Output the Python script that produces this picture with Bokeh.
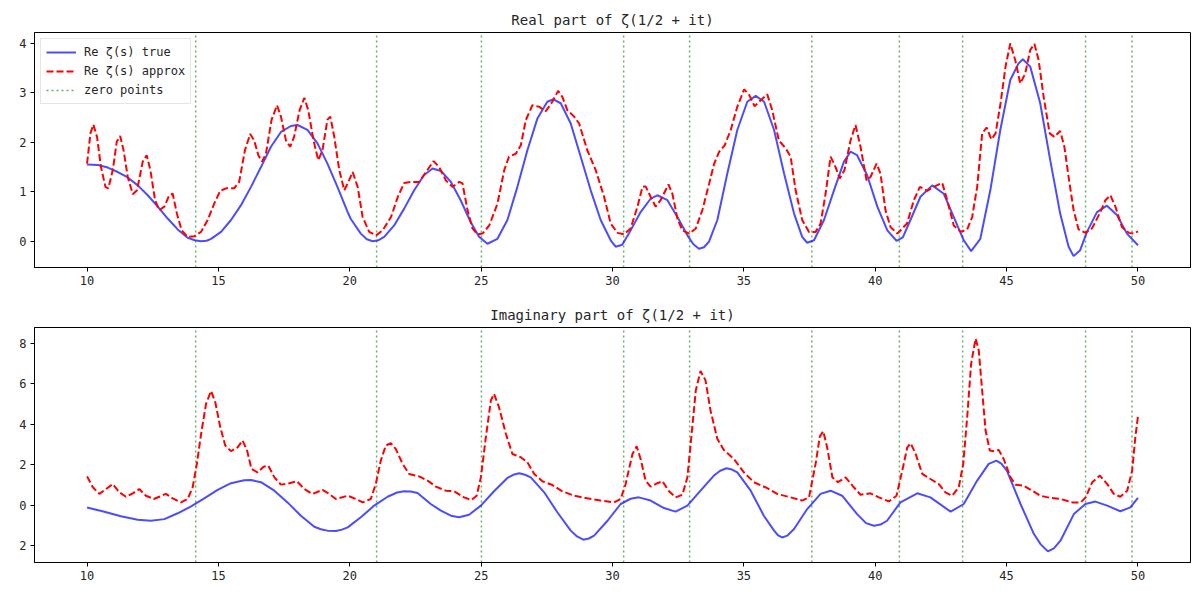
from bokeh.plotting import figure
from bokeh.layouts import column
from bokeh.models import Legend, LegendItem, FixedTicker, Range1d
from bokeh.embed import file_html
from bokeh.resources import INLINE

FONT = "DejaVu Sans Mono"

# ---------------- data ----------------
# Real part, true curve
re_true_t = [10.0, 10.41, 10.79, 11.17, 11.55, 11.93, 12.31, 12.69, 13.07, 13.45, 13.83, 14.1, 14.34, 14.55, 14.72, 15.1,
             15.48, 15.86, 16.24, 16.62, 17.0, 17.38, 17.76, 18.01, 18.39, 18.77, 19.15, 19.53, 19.92, 20.04,
             20.42, 20.65, 20.87, 21.08, 21.31, 21.69, 22.07, 22.45, 22.83, 23.15, 23.47, 23.85, 24.22, 24.6, 24.92, 25.24,
             25.62, 26.0, 26.38, 26.76, 27.14, 27.52, 27.75, 28.03, 28.41, 28.79, 29.17, 29.55, 29.93, 30.12,
             30.37, 30.69, 31.07, 31.45, 31.71, 32.09, 32.47, 32.85, 33.08, 33.29, 33.48, 33.67, 33.99, 34.37, 34.75, 35.13,
             35.45, 35.77, 36.15, 36.53, 36.91, 37.22, 37.41, 37.67, 38.05, 38.43, 38.81, 39.06, 39.31, 39.69,
             40.08, 40.46, 40.81, 41.05, 41.34, 41.72, 42.17, 42.61, 42.99, 43.37, 43.65, 44.0, 44.38, 44.76, 45.14,
             45.46, 45.62, 45.9, 46.28, 46.66, 47.04, 47.36, 47.55, 47.8, 48.06, 48.44, 48.82, 49.2, 49.58, 50.0]
re_true_v = [1.55, 1.54, 1.49, 1.40, 1.29, 1.13, 0.93, 0.70, 0.46, 0.24, 0.07, 0.02, 0.0, 0.01, 0.05, 0.19,
             0.43, 0.73, 1.10, 1.50, 1.91, 2.21, 2.33, 2.35, 2.25, 1.98, 1.57, 1.10, 0.59, 0.45,
             0.155, 0.04, 0.0, 0.02, 0.09, 0.32, 0.66, 1.03, 1.34, 1.47, 1.42, 1.20, 0.83, 0.39, 0.09, -0.05,
             0.05, 0.43, 1.10, 1.84, 2.48, 2.82, 2.87, 2.79, 2.38, 1.71, 1.03, 0.43, 0.02, -0.11,
             -0.07, 0.22, 0.59, 0.86, 0.93, 0.83, 0.49, 0.12, -0.06, -0.15, -0.12, -0.01, 0.43, 1.37, 2.25, 2.82,
             2.94, 2.82, 2.25, 1.37, 0.56, 0.09, -0.03, 0.02, 0.43, 1.03, 1.61, 1.81, 1.74, 1.34,
             0.70, 0.22, 0.01, 0.08, 0.43, 0.90, 1.13, 0.96, 0.49, 0.02, -0.20, 0.05, 1.03, 2.25, 3.26,
             3.60, 3.68, 3.53, 2.79, 1.64, 0.56, -0.11, -0.30, -0.18, 0.19, 0.59, 0.72, 0.53, 0.155, -0.08]

# Real part, approximation
re_apx_t = [10.0, 10.13, 10.24, 10.38, 10.53, 10.7, 10.81, 10.98, 11.13, 11.26, 11.39, 11.55, 11.74, 11.9,
            12.12, 12.27, 12.41, 12.59, 12.75, 12.94, 13.13, 13.26, 13.42, 13.6, 13.83, 14.08, 14.34, 14.59,
            14.84, 15.07, 15.29, 15.6, 15.79, 16.01, 16.21, 16.36, 16.52, 16.66, 16.81, 17.02, 17.23, 17.38,
            17.57, 17.73, 17.88, 18.09, 18.27, 18.42, 18.62, 18.8, 18.96, 19.15, 19.26, 19.41, 19.6, 19.79,
            19.98, 20.11, 20.3, 20.49, 20.74, 21.0, 21.25, 21.57, 21.83, 22.07, 22.32, 22.64, 22.9, 23.19,
            23.4, 23.66, 23.91, 24.17, 24.29, 24.48, 24.67, 24.86, 25.05, 25.31, 25.62, 25.88, 26.06, 26.32,
            26.51, 26.7, 26.95, 27.2, 27.46, 27.71, 27.93, 28.09, 28.28, 28.54, 28.73, 29.04, 29.36, 29.68,
            29.93, 30.19, 30.44, 30.69, 30.95, 31.14, 31.26, 31.45, 31.64, 31.83, 32.13, 32.28, 32.47, 32.66,
            32.92, 33.17, 33.42, 33.68, 33.87, 34.06, 34.27, 34.5, 34.75, 35.01, 35.2, 35.41, 35.64, 35.89,
            36.08, 36.33, 36.59, 36.78, 36.97, 37.22, 37.48, 37.73, 37.92, 38.11, 38.3, 38.49, 38.65, 38.83,
            39.06, 39.25, 39.44, 39.67, 39.82, 40.05, 40.2, 40.39, 40.58, 40.84, 41.21, 41.47, 41.7, 41.98,
            42.23, 42.55, 42.74, 42.99, 43.25, 43.5, 43.69, 43.88, 44.07, 44.24, 44.42, 44.58, 44.77, 44.96,
            45.14, 45.33, 45.52, 45.71, 45.9, 46.06, 46.22, 46.41, 46.64, 46.82, 47.04, 47.2, 47.36, 47.55,
            47.74, 48.0, 48.25, 48.57, 48.76, 48.95, 49.14, 49.39, 49.65, 49.84, 50.0]
re_apx_v = [1.57, 2.18, 2.36, 2.11, 1.50, 1.10, 1.07, 1.44, 2.01, 2.13, 1.84, 1.30, 0.95, 1.03,
            1.61, 1.74, 1.44, 0.83, 0.63, 0.70, 0.93, 0.96, 0.56, 0.22, 0.09, 0.10, 0.19, 0.43,
            0.76, 1.02, 1.07, 1.07, 1.20, 1.84, 2.17, 2.04, 1.74, 1.61, 1.77, 2.45, 2.75, 2.52,
            2.04, 1.91, 2.11, 2.65, 2.90, 2.65, 2.04, 1.64, 1.84, 2.46, 2.52, 2.11, 1.44, 1.03,
            1.24, 1.40, 1.10, 0.49, 0.19, 0.12, 0.22, 0.49, 0.90, 1.18, 1.20, 1.20, 1.40, 1.62,
            1.50, 1.23, 1.10, 1.20, 1.17, 0.63, 0.26, 0.14, 0.155, 0.32, 0.76, 1.44, 1.71, 1.77,
            1.94, 2.45, 2.75, 2.72, 2.63, 2.82, 3.04, 2.92, 2.65, 2.52, 2.38, 1.84, 1.44, 0.90,
            0.36, 0.17, 0.14, 0.26, 0.70, 1.10, 1.11, 0.90, 0.70, 0.83, 1.15, 0.96, 0.46, 0.22,
            0.155, 0.26, 0.63, 1.17, 1.57, 1.81, 1.94, 2.25, 2.72, 3.07, 2.96, 2.73, 2.85, 2.97,
            2.65, 2.04, 1.88, 1.71, 1.03, 0.43, 0.19, 0.19, 0.36, 0.96, 1.71, 1.50, 1.27, 1.44,
            2.04, 2.35, 1.91, 1.23, 1.30, 1.57, 1.37, 0.63, 0.29, 0.155, 0.36, 0.83, 1.10, 1.02,
            1.10, 1.18, 0.83, 0.32, 0.19, 0.24, 0.49, 1.10, 2.18, 2.30, 2.06, 2.18, 2.79, 3.53,
            4.00, 3.66, 3.19, 3.39, 3.87, 3.99, 3.66, 2.92, 2.18, 2.11, 2.23, 1.91, 1.30, 0.63,
            0.24, 0.17, 0.26, 0.59, 0.83, 0.93, 0.70, 0.29, 0.17, 0.155, 0.20]

# Imaginary part, true curve
im_true_t = [10.0, 10.66, 11.29, 11.93, 12.43, 12.94, 13.45, 13.96, 14.46, 14.97, 15.48, 15.98, 16.24, 16.62,
             17.13, 17.63, 18.14, 18.65, 18.9, 19.15, 19.47, 19.7, 19.92, 20.42, 20.93, 21.44, 21.8, 22.07, 22.32, 22.58,
             23.08, 23.47, 23.85, 24.16, 24.54, 24.99, 25.49, 26.0, 26.22, 26.45, 26.67, 26.89, 27.4, 27.9, 28.41,
             28.65, 28.89, 29.1, 29.3, 29.81, 30.31, 30.69, 31.0, 31.45, 31.96, 32.4, 32.85, 33.35, 33.86, 34.1,
             34.34, 34.55, 34.75, 35.26, 35.76, 36.15, 36.3, 36.46, 36.65, 36.91, 37.41, 37.92, 38.3, 38.74,
             39.31, 39.65, 39.95, 40.2, 40.45, 40.96, 41.6, 42.1, 42.87, 43.37, 43.88, 44.32, 44.61, 44.8,
             45.01, 45.53, 46.04, 46.3, 46.57, 46.8, 47.05, 47.56, 48.0, 48.38, 48.83, 49.33, 49.71, 50.0]
im_true_v = [-0.12, -0.33, -0.56, -0.73, -0.78, -0.70, -0.41, -0.07, 0.33, 0.75, 1.08, 1.23, 1.24, 1.13,
             0.71, 0.13, -0.53, -1.08, -1.2, -1.27, -1.29, -1.22, -1.11, -0.61, -0.03, 0.41, 0.62, 0.68, 0.67, 0.60,
             0.05, -0.28, -0.53, -0.61, -0.48, -0.03, 0.68, 1.34, 1.5, 1.57, 1.5, 1.37, 0.63, -0.36, -1.27,
             -1.56, -1.72, -1.66, -1.52, -0.78, 0.05, 0.31, 0.38, 0.22, -0.15, -0.33, -0.03, 0.71, 1.46, 1.7,
             1.82, 1.76, 1.62, 0.71, -0.53, -1.27, -1.5, -1.61, -1.52, -1.19, -0.20, 0.55, 0.71, 0.46,
             -0.45, -0.9, -1.03, -0.97, -0.78, 0.13, 0.58, 0.38, -0.33, 0.05, 1.21, 2.04, 2.20, 2.05,
             1.71, 0.05, -1.44, -1.95, -2.30, -2.15, -1.77, -0.45, 0.05, 0.17, -0.03, -0.31, -0.12, 0.35]

# Imaginary part, approximation
im_apx_t = [10.0, 10.22, 10.47, 10.72, 10.98, 11.23, 11.48, 11.74, 11.99, 12.24, 12.54, 12.75, 13.0, 13.26,
            13.58, 13.83, 14.02, 14.18, 14.36, 14.53, 14.72, 14.88, 15.07, 15.26, 15.48, 15.73, 15.92, 16.09,
            16.26, 16.49, 16.72, 16.9, 17.13, 17.38, 17.7, 17.99, 18.27, 18.58, 18.96, 19.22, 19.47, 19.92,
            20.23, 20.49, 20.8, 20.99, 21.18, 21.37, 21.56, 21.75, 22.01, 22.26, 22.64, 22.96, 23.28, 23.66,
            23.97, 24.35, 24.63, 24.83, 24.99, 25.18, 25.37, 25.49, 25.68, 25.94, 26.19, 26.51, 26.76, 27.02,
            27.33, 27.71, 28.09, 28.54, 29.04, 29.55, 30.06, 30.31, 30.5, 30.76, 30.92, 31.07, 31.26, 31.45,
            31.71, 31.9, 32.15, 32.4, 32.66, 32.85, 33.0, 33.17, 33.35, 33.54, 33.73, 33.99, 34.24, 34.62,
            35.0, 35.38, 35.89, 36.27, 36.78, 37.22, 37.48, 37.73, 37.89, 38.02, 38.17, 38.37, 38.58, 38.87,
            39.13, 39.44, 39.82, 40.14, 40.52, 40.81, 41.03, 41.22, 41.35, 41.54, 41.79, 42.1, 42.42, 42.67,
            42.93, 43.18, 43.35, 43.5, 43.65, 43.82, 43.94, 44.07, 44.2, 44.36, 44.51, 44.7, 44.89, 45.15,
            45.34, 45.65, 45.97, 46.29, 46.67, 47.05, 47.5, 47.82, 48.01, 48.26, 48.55, 48.83, 49.08, 49.33,
            49.59, 49.78, 49.9, 50.0]
im_apx_v = [1.42, 0.88, 0.55, 0.79, 1.04, 0.63, 0.41, 0.58, 0.79, 0.46, 0.30, 0.41, 0.55, 0.33,
            0.13, 0.30, 0.88, 2.04, 3.69, 5.02, 5.65, 5.10, 3.86, 2.95, 2.67, 2.86, 3.20, 2.70,
            1.79, 1.62, 1.90, 1.95, 1.37, 1.01, 1.08, 1.18, 0.79, 0.55, 0.75, 0.55, 0.30, 0.46,
            0.30, 0.13, 0.30, 1.04, 2.20, 2.95, 3.06, 2.78, 2.04, 1.54, 1.42, 1.21, 0.91, 0.71,
            0.68, 0.38, 0.25, 0.46, 1.37, 3.36, 5.18, 5.51, 4.85, 3.53, 2.53, 2.37, 2.12, 1.54,
            1.18, 0.99, 0.68, 0.46, 0.33, 0.22, 0.13, 0.30, 1.04, 2.53, 2.91, 2.28, 1.21, 0.91,
            1.08, 1.18, 0.68, 0.38, 0.51, 1.37, 3.36, 5.68, 6.64, 6.18, 4.69, 3.28, 2.73, 2.28,
            1.62, 1.13, 0.84, 0.55, 0.38, 0.22, 0.38, 2.04, 3.39, 3.66, 2.86, 1.37, 1.13, 1.37,
            0.96, 0.51, 0.58, 0.38, 0.18, 0.46, 1.71, 2.86, 3.06, 2.53, 1.54, 1.29, 1.04, 0.63,
            0.46, 0.88, 2.04, 4.35, 7.00, 8.25, 7.67, 5.68, 3.69, 2.70, 2.67, 2.73, 2.28, 1.37,
            1.01, 0.96, 0.71, 0.46, 0.35, 0.30, 0.13, 0.13, 0.38, 1.13, 1.46, 1.04, 0.55, 0.41,
            0.71, 1.71, 3.36, 4.39]

zero_points = [14.1347, 21.0220, 25.0109, 30.4249, 32.9351, 37.5862, 40.9187, 43.3271, 48.0052, 49.7738]

x_ticks = [10, 15, 20, 25, 30, 35, 40, 45, 50]
top_y_ticks = [0, 1, 2, 3, 4]
bot_y_ticks = [-2, 0, 2, 4, 6, 8]
bot_y_labels = {-2: "2"}

legend_labels = ["Re \u03b6(s) true", "Re \u03b6(s) approx", "zero points"]
titles = ["Real part of \u03b6(1/2 + it)", "Imaginary part of \u03b6(1/2 + it)"]

BLUE = "#0000ff"
RED = "#ff0000"
GREEN = "#008000"
TXT = "#262626"


def style(p, yticks):
    p.title.text_font = FONT
    p.title.text_font_size = "14px"
    p.title.text_font_style = "normal"
    p.title.align = "center"
    p.title.text_color = TXT
    p.title.standoff = 10
    p.grid.visible = False
    p.outline_line_color = "black"
    p.outline_line_width = 1
    p.outline_line_alpha = 1
    p.xaxis.ticker = FixedTicker(ticks=x_ticks)
    p.yaxis.ticker = FixedTicker(ticks=yticks)
    for ax in (p.xaxis, p.yaxis):
        ax.major_label_text_font = FONT
        ax.major_label_text_font_size = "12px"
        ax.major_label_text_color = TXT
        ax.major_tick_in = 0
        ax.major_tick_out = 4
        ax.minor_tick_in = 0
        ax.minor_tick_out = 0
        ax.axis_line_color = "black"
        ax.major_tick_line_color = "black"
        ax.major_label_standoff = 4


def make(title, yr, tt, tv, at, av, yticks, top_border, bottom_border, height):
    p = figure(width=1192, height=height, output_backend="svg", toolbar_location=None,
               title=title, x_range=Range1d(8, 52), y_range=Range1d(*yr),
               min_border_left=34, min_border_right=2, min_border_top=top_border,
               min_border_bottom=bottom_border)
    style(p, yticks)
    n = len(zero_points)
    r3 = p.segment(x0=zero_points, x1=zero_points, y0=[yr[0]] * n, y1=[yr[1]] * n,
                   line_color=GREEN, line_alpha=0.6, line_width=1.5, line_dash="2 3")
    r1 = p.line(tt, tv, line_color=BLUE, line_alpha=0.7, line_width=2)
    r2 = p.line(at, av, line_color=RED, line_width=2, line_dash="7 3")
    return p, r1, r2, r3


p1, a, b, c = make(titles[0], (-0.53, 4.22), re_true_t, re_true_v,
                   re_apx_t, re_apx_v, top_y_ticks, 32, 27, 294)
legend = Legend(items=[LegendItem(label=legend_labels[0], renderers=[a]),
                       LegendItem(label=legend_labels[1], renderers=[b]),
                       LegendItem(label=legend_labels[2], renderers=[c])],
                location="top_left")
legend.label_text_font = FONT
legend.label_text_font_size = "12px"
legend.label_text_color = TXT
legend.label_height = 16
legend.glyph_height = 16
legend.glyph_width = 30
legend.label_standoff = 8
legend.spacing = 3
legend.padding = 5
legend.margin = 6
legend.border_line_color = "#cccccc"
legend.border_line_width = 1
legend.background_fill_alpha = 0.8
p1.add_layout(legend)

p2, _, _, _ = make(titles[1], (-2.85, 8.8), im_true_t, im_true_v,
                   im_apx_t, im_apx_v, bot_y_ticks, 33, 28, 296)
p2.yaxis.major_label_overrides = bot_y_labels

layout = column(p1, p2, spacing=0)
open("out.html", "w").write(file_html(layout, INLINE))
